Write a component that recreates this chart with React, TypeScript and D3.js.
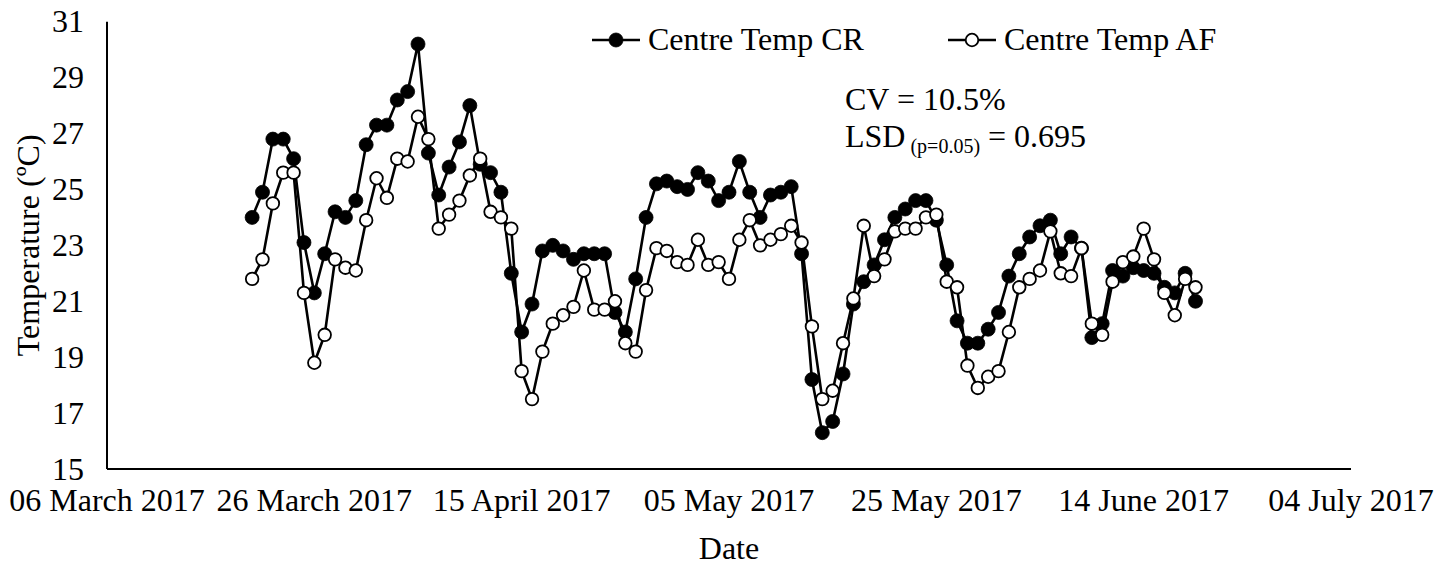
import React from "react";
import * as d3 from "d3";

// ---- data ----
const firstDate = "2017-03-20"; // first daily reading
const centreTempCR: number[] = [
  24.0, 24.9, 26.8, 26.8, 26.1, 23.1, 21.3, 22.7, 24.2, 24.0,
  24.6, 26.6, 27.3, 27.3, 28.2, 28.5, 30.2, 26.3, 24.8, 25.8,
  26.7, 28.0, 25.9, 25.6, 24.9, 22.0, 19.9, 20.9, 22.8, 23.0,
  22.8, 22.5, 22.7, 22.7, 22.7, 20.6, 19.9, 21.8, 24.0, 25.2,
  25.3, 25.1, 25.0, 25.6, 25.3, 24.6, 24.9, 26.0, 24.9, 24.0,
  24.8, 24.9, 25.1, 22.7, 18.2, 16.3, 16.7, 18.4, 20.9, 21.7,
  22.3, 23.2, 24.0, 24.3, 24.6, 24.6, 23.9, 22.3, 20.3, 19.5,
  19.5, 20.0, 20.6, 21.9, 22.7, 23.3, 23.7, 23.9, 22.7, 23.3,
  22.9, 19.7, 20.2, 22.1, 21.9, 22.2, 22.1, 22.0, 21.5, 21.3,
  22.0, 21.0,
];
const centreTempAF: number[] = [
  21.8, 22.5, 24.5, 25.6, 25.6, 21.3, 18.8, 19.8, 22.5, 22.2,
  22.1, 23.9, 25.4, 24.7, 26.1, 26.0, 27.6, 26.8, 23.6, 24.1,
  24.6, 25.5, 26.1, 24.2, 24.0, 23.6, 18.5, 17.5, 19.2, 20.2,
  20.5, 20.8, 22.1, 20.7, 20.7, 21.0, 19.5, 19.2, 21.4, 22.9,
  22.8, 22.4, 22.3, 23.2, 22.3, 22.4, 21.8, 23.2, 23.9, 23.0,
  23.2, 23.4, 23.7, 23.1, 20.1, 17.5, 17.8, 19.5, 21.1, 23.7,
  21.9, 22.5, 23.5, 23.6, 23.6, 24.0, 24.1, 21.7, 21.5, 18.7,
  17.9, 18.3, 18.5, 19.9, 21.5, 21.8, 22.1, 23.5, 22.0, 21.9,
  22.9, 20.2, 19.8, 21.7, 22.4, 22.6, 23.6, 22.5, 21.3, 20.5,
  21.8, 21.5,
];
const xTickDates = [
  "2017-03-06", "2017-03-26", "2017-04-15", "2017-05-05",
  "2017-05-25", "2017-06-14", "2017-07-04",
];
const yTicks = [15, 17, 19, 21, 23, 25, 27, 29, 31];
const seriesNames = ["Centre Temp CR", "Centre Temp AF"];

// ---- layout ----
const W = 1450, H = 567;
const M = { left: 107, right: 1351, top: 21.7, bottom: 469 };
const FONT = "'Liberation Serif', 'Times New Roman', serif";

export default function App() {
  const parse = d3.timeParse("%Y-%m-%d");
  const fmt = d3.timeFormat("%d %B %Y");
  const tickDates = xTickDates.map((s) => parse(s) as Date);
  const start = parse(firstDate) as Date;
  const dates = d3.timeDay.range(start, d3.timeDay.offset(start, centreTempCR.length));

  const x = d3.scaleTime().domain([tickDates[0], tickDates[tickDates.length - 1]]).range([M.left, M.right]);
  const y = d3.scaleLinear().domain([15, 31]).range([M.bottom, M.top]);

  const line = d3
    .line<number>()
    .x((_, i) => x(dates[i]))
    .y((d) => y(d));

  const seriesList = [
    { name: seriesNames[0], values: centreTempCR, fill: "#000" },
    { name: seriesNames[1], values: centreTempAF, fill: "#fff" },
  ];

  const legendItems = [
    { name: seriesNames[0], fill: "#000", x0: 592 },
    { name: seriesNames[1], fill: "#fff", x0: 948 },
  ];

  const rFor = (fill: string) => (fill === "#000" ? 7 : 6.3);
  const swFor = (fill: string) => (fill === "#000" ? 0.8 : 1.8);

  return (
    <svg width={W} height={H} style={{ position: "absolute", left: 0, top: 0, background: "#fff" }} fontFamily={FONT}>
      <rect x={0} y={0} width={W} height={H} fill="#fff" />
      {/* axes */}
      <line x1={M.left} x2={M.left} y1={M.top} y2={M.bottom} stroke="#000" strokeWidth={2} />
      <line x1={M.left} x2={M.right} y1={M.bottom} y2={M.bottom} stroke="#000" strokeWidth={2} />
      {yTicks.map((t) => (
        <text key={t} x={84} y={y(t)} dy="0.33em" textAnchor="end" fontSize={32} fill="#000">
          {t}
        </text>
      ))}
      {tickDates.map((d, i) => (
        <text key={i} x={x(d)} y={511} textAnchor="middle" fontSize={32} fill="#000">
          {fmt(d)}
        </text>
      ))}
      <text x={(M.left + M.right) / 2} y={559} textAnchor="middle" fontSize={32} fill="#000">
        Date
      </text>
      <text
        transform={`translate(28,${(M.top + M.bottom) / 2}) rotate(-90)`}
        textAnchor="middle"
        dy="0.35em"
        fontSize={32}
        fill="#000"
      >
        Temperature (ºC)
      </text>

      {/* series */}
      {seriesList.map((s) => (
        <g key={s.name}>
          <path d={line(s.values) || ""} fill="none" stroke="#000" strokeWidth={2.6} />
          {s.values.map((v, i) => (
            <circle
              key={i}
              cx={x(dates[i])}
              cy={y(v)}
              r={rFor(s.fill)}
              fill={s.fill}
              stroke="#000"
              strokeWidth={swFor(s.fill)}
            />
          ))}
        </g>
      ))}

      {/* legend */}
      {legendItems.map((l) => (
        <g key={l.name}>
          <line x1={l.x0} x2={l.x0 + 48} y1={40} y2={40} stroke="#000" strokeWidth={2.6} />
          <circle cx={l.x0 + 24} cy={40} r={rFor(l.fill)} fill={l.fill} stroke="#000" strokeWidth={swFor(l.fill)} />
          <text x={l.x0 + 56} y={50} fontSize={32} fill="#000">
            {l.name}
          </text>
        </g>
      ))}

      {/* annotation */}
      <text x={845} y={110} fontSize={32} fill="#000">
        CV = 10.5%
      </text>
      <text x={845} y={147} fontSize={32} fill="#000">
        LSD
        <tspan fontSize={20} dy={6}> (p=0.05)</tspan>
        <tspan fontSize={32} dy={-6}> = 0.695</tspan>
      </text>
    </svg>
  );
}
